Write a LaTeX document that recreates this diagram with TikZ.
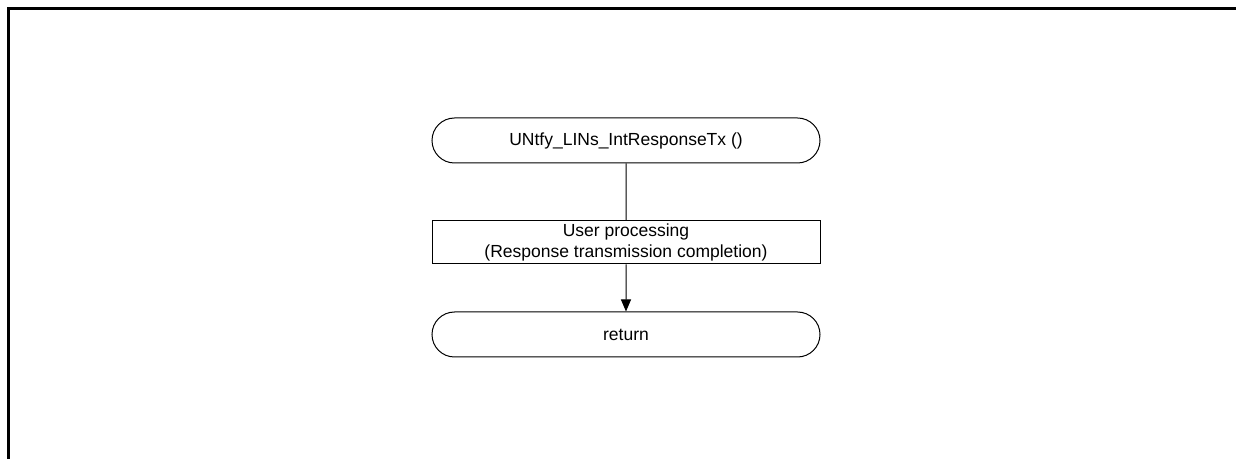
\documentclass[tikz,border=0pt]{standalone}
\usepackage{fontspec}
\setmainfont{Liberation Sans}
\usetikzlibrary{shapes.misc,arrows.meta}
\begin{document}
\begin{tikzpicture}[x=1bp,y=-1bp,
  every node/.style={font=\fontsize{17.5bp}{20.5bp}\selectfont, align=center, inner sep=0pt},
  term/.style={draw, line width=1bp, rounded rectangle, minimum width=388bp, minimum height=45bp},
  procbox/.style={draw, line width=1bp, rectangle, minimum width=388bp, minimum height=43bp},
  conn/.style={line width=1bp},
  frameline/.style={line width=3bp}]
\useasboundingbox (0,0) rectangle (1236,459);
\draw[frameline] (8.5,459) -- (8.5,8.5) -- (1236,8.5);
\node[term] (start) at (626,140.5) {UNtfy\_LINs\_IntResponseTx ()};
\node[procbox] (proc) at (626,242.5) {User processing\\(Response transmission completion)};
\node[term] (ret) at (626,334.5) {return};
\draw[conn] (start) -- (proc);
\draw[conn,-{Triangle[length=12bp,width=10bp]}] (proc) -- (ret);
\end{tikzpicture}
\end{document}
